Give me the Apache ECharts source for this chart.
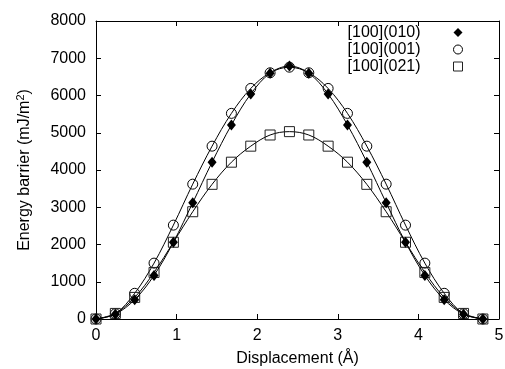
<!DOCTYPE html>
<html>
<head>
<meta charset="utf-8">
<script src="https://cdn.jsdelivr.net/npm/echarts@6/dist/echarts.min.js"></script>
<style>html,body{margin:0;padding:0;background:#fff}#c{width:505px;height:369px}</style>
</head>
<body>
<div id="c"></div>
<script>
// Displacement (Å)
var xVals = [0, 0.24, 0.48, 0.72, 0.96, 1.2, 1.44, 1.68, 1.92, 2.16, 2.4, 2.64, 2.88, 3.12, 3.36, 3.6, 3.84, 4.08, 4.32, 4.56, 4.8];
// Energy barrier (mJ/m^2)
var s010 = [0, 130, 520, 1170, 2060, 3120, 4210, 5210, 6040, 6600, 6790, 6600, 6040, 5210, 4210, 3120, 2060, 1170, 520, 130, 0];
var s001 = [0, 140, 690, 1500, 2520, 3620, 4640, 5520, 6190, 6610, 6760, 6610, 6190, 5520, 4640, 3620, 2520, 1500, 690, 140, 0];
var s021 = [0, 150, 580, 1250, 2060, 2880, 3615, 4210, 4640, 4940, 5030, 4940, 4640, 4210, 3615, 2880, 2060, 1250, 580, 150, 0];
var seriesNames = ['[100](010)', '[100](001)', '[100](021)'];
var xTicks = [0, 1, 2, 3, 4, 5];
var yTicks = [0, 1000, 2000, 3000, 4000, 5000, 6000, 7000, 8000];

function pairs(arr) { return xVals.map(function (x, i) { return [x, arr[i]]; }); }

var FONT = 'Liberation Sans, Arial, Helvetica, sans-serif';
var chart = echarts.init(document.getElementById('c'), null, { renderer: 'canvas' });

var axisCommon = {
  axisLine: { show: true, onZero: false, lineStyle: { color: '#000', width: 1 } },
  axisTick: { show: true, inside: true, length: 5, lineStyle: { color: '#000', width: 1 } },
  splitLine: { show: false }
};
var CLEAR = 'rgba(0,0,0,0)';

chart.setOption({
  animation: false,
  backgroundColor: '#fff',
  textStyle: { fontFamily: FONT },
  grid: { left: 96, right: 6, top: 21, bottom: 50, containLabel: false, outerBoundsMode: 'none' },
  legend: {
    orient: 'vertical',
    align: 'right',
    right: 37,
    top: 19,
    itemGap: 0,
    itemWidth: 9,
    itemHeight: 9,
    textStyle: { fontFamily: FONT, fontSize: 16, color: '#000', lineHeight: 17, padding: [0, 28, 0, 0] },
    data: [
      { name: seriesNames[0], icon: 'diamond', itemStyle: { color: '#000' } },
      { name: seriesNames[1], icon: 'circle', itemStyle: { color: '#fff', borderColor: '#000', borderWidth: 1 } },
      { name: seriesNames[2], icon: 'rect', itemStyle: { color: '#fff', borderColor: '#222', borderWidth: 1 } }
    ]
  },
  xAxis: [
    Object.assign({}, axisCommon, {
      type: 'value', min: xTicks[0], max: xTicks[xTicks.length - 1], interval: 1,
      name: 'Displacement (Å)', nameLocation: 'middle', nameGap: 32,
      nameTextStyle: { fontFamily: FONT, fontSize: 16, color: '#000' },
      axisLabel: { fontFamily: FONT, fontSize: 16, color: '#000', margin: 9, formatter: function (v) { return String(v); } }
    }),
    Object.assign({}, axisCommon, {
      type: 'value', position: 'top', min: xTicks[0], max: xTicks[xTicks.length - 1], interval: 1,
      axisLabel: { show: false }
    })
  ],
  yAxis: [
    Object.assign({}, axisCommon, {
      type: 'value', min: yTicks[0], max: yTicks[yTicks.length - 1], interval: 1000,
      name: '{a|Energy barrier (mJ/m}{s|2}{a|)}', nameLocation: 'middle', nameGap: 62,
      nameTextStyle: {
        fontFamily: FONT, fontSize: 16, color: '#000',
        rich: {
          a: { fontFamily: FONT, fontSize: 16, color: '#000' },
          s: { fontFamily: FONT, fontSize: 11, color: '#000', verticalAlign: 'top', padding: [0, 0, 8, 0] }
        }
      },
      axisLabel: { fontFamily: FONT, fontSize: 16, color: '#000', margin: 10, formatter: function (v) { return String(v); } }
    }),
    Object.assign({}, axisCommon, {
      type: 'value', position: 'right', min: yTicks[0], max: yTicks[yTicks.length - 1], interval: 1000,
      axisLabel: { show: false }
    })
  ],
  series: [
    {
      name: seriesNames[0], type: 'line', data: pairs(s010), smooth: 0.35,
      symbol: 'diamond', symbolSize: [9, 11], showAllSymbol: true,
      lineStyle: { color: '#000', width: 1 },
      itemStyle: { color: '#000', borderColor: '#000', borderWidth: 0 }, z: 3
    },
    {
      name: seriesNames[1], type: 'line', data: pairs(s001), smooth: 0.35,
      symbol: 'circle', symbolSize: 10, showAllSymbol: true,
      lineStyle: { color: '#000', width: 1 },
      itemStyle: { color: CLEAR, borderColor: '#000', borderWidth: 1 }, z: 2
    },
    {
      name: seriesNames[2], type: 'line', data: pairs(s021), smooth: 0.35,
      symbol: 'rect', symbolSize: 10, showAllSymbol: true,
      lineStyle: { color: '#000', width: 1 },
      itemStyle: { color: CLEAR, borderColor: '#222', borderWidth: 1 }, z: 2
    }
  ]
});
</script>
</body>
</html>
